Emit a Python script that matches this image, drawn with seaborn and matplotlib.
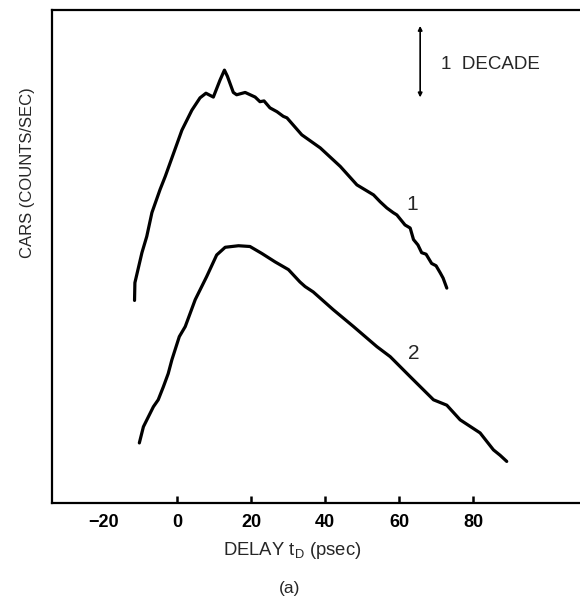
import numpy as np
import pandas as pd
import matplotlib
matplotlib.use("Agg")
import matplotlib.pyplot as plt
from matplotlib.ticker import NullLocator
import seaborn as sns

# --------------------------------------------------------------
# Veri (okunan degerler): gecikme [psec], log10(sayim)
# --------------------------------------------------------------
delay_1 = [-11.5, -11.4, -9.5, -8.2, -6.8, -4.6, -3.2, -1.4, 1.3, 4.0, 6.2, 7.8,
           9.8, 11.6, 12.8, 13.6, 15.2, 16.1, 18.4, 21.1, 22.4, 23.5, 25.1, 27.0,
           28.7, 29.7, 33.7, 38.7, 44.1, 48.6, 53.1, 54.9, 56.7, 58.4, 59.4, 61.6,
           63.0, 63.9, 65.1, 66.1, 67.3, 68.8, 70.0, 71.1, 71.9, 72.9]
logc_1 = [2.63, 2.86, 3.25, 3.46, 3.77, 4.07, 4.24, 4.48, 4.84, 5.10, 5.26, 5.32,
          5.27, 5.49, 5.62, 5.54, 5.33, 5.30, 5.33, 5.27, 5.21, 5.22, 5.13, 5.08,
          5.02, 5.00, 4.78, 4.61, 4.37, 4.13, 4.00, 3.91, 3.83, 3.77, 3.74, 3.61,
          3.57, 3.42, 3.35, 3.25, 3.23, 3.11, 3.08, 2.99, 2.92, 2.79]

delay_2 = [-10.2, -9.1, -6.4, -5.1, -3.7, -2.4, -1.4, 0.6, 2.2, 4.9, 8.0, 10.7,
           13.0, 16.6, 19.7, 22.9, 26.5, 30.1, 33.2, 34.6, 36.8, 42.2, 47.7, 54.0,
           57.6, 63.0, 69.3, 72.9, 76.5, 81.9, 85.5, 87.3, 89.1]
logc_2 = [0.78, 0.99, 1.25, 1.34, 1.51, 1.68, 1.86, 2.16, 2.29, 2.64, 2.94, 3.22,
          3.32, 3.34, 3.33, 3.24, 3.13, 3.03, 2.87, 2.81, 2.74, 2.51, 2.29, 2.03,
          1.90, 1.64, 1.34, 1.27, 1.08, 0.91, 0.69, 0.62, 0.54]

xticks = [-20, 0, 20, 40, 60, 80]
xtick_labels = ["\u221220", "0", "20", "40", "60", "80"]

df = pd.concat([
    pd.DataFrame({"delay": delay_1, "counts": 10 ** np.array(logc_1), "curve": "1"}),
    pd.DataFrame({"delay": delay_2, "counts": 10 ** np.array(logc_2), "curve": "2"}),
], ignore_index=True)

# --------------------------------------------------------------
# Grafik
# --------------------------------------------------------------
sns.set_style("ticks")
plt.rcParams["font.family"] = ["Liberation Sans", "DejaVu Sans"]

fig = plt.figure(figsize=(5.8, 6.04), dpi=100)
ax = fig.add_axes([0.0897, 0.1672, 0.9103, 0.8162])

sns.lineplot(data=df, x="delay", y="counts", units="curve", estimator=None,
             sort=False, color="black", linewidth=2.3, ax=ax)

ax.set_yscale("log")
ax.set_xlim(-33.8, 108.9)
ax.set_ylim(1, 10 ** 6.4)
ax.yaxis.set_major_locator(NullLocator())
ax.yaxis.set_minor_locator(NullLocator())

ax.set_xticks(xticks)
ax.set_xticklabels(xtick_labels, fontweight="bold", fontsize=13)
ax.tick_params(axis="x", direction="in", length=5, width=1.8, pad=8, colors="black")
ax.xaxis.get_major_ticks()[0].tick1line.set_visible(False)

for s in ["left", "bottom", "top"]:
    ax.spines[s].set_linewidth(1.6)
    ax.spines[s].set_color("black")
ax.spines["right"].set_visible(False)

ax.set_xlabel("DELAY t$_\\mathregular{D}$ (psec)", fontsize=13.3)
ax.xaxis.set_label_coords(0.4545, -0.097)
ax.xaxis.label.set_va("center")
ax.set_ylabel("CARS (COUNTS/SEC)", fontsize=12)
ax.yaxis.set_label_coords(-0.046, 0.671)
ax.yaxis.label.set_va("center")

# egri etiketleri
ax.text(63.5, 10 ** 3.87, "1", fontsize=15, ha="center", va="center")
ax.text(63.9, 10 ** 1.94, "2", fontsize=15, ha="center", va="center")

# 1 dekad isareti
ax.annotate("", xy=(65.7, 10 ** 6.23), xytext=(65.7, 10 ** 5.23),
            arrowprops=dict(arrowstyle="<|-|>", color="black", lw=1.2, mutation_scale=6))
ax.text(71.3, 10 ** 5.69, "1  DECADE", fontsize=13.5, ha="left", va="center")

fig.text(0.5, 1 - 588 / 604, "(a)", fontsize=12.5, ha="center", va="center")

fig.savefig("out.png", dpi=100)
